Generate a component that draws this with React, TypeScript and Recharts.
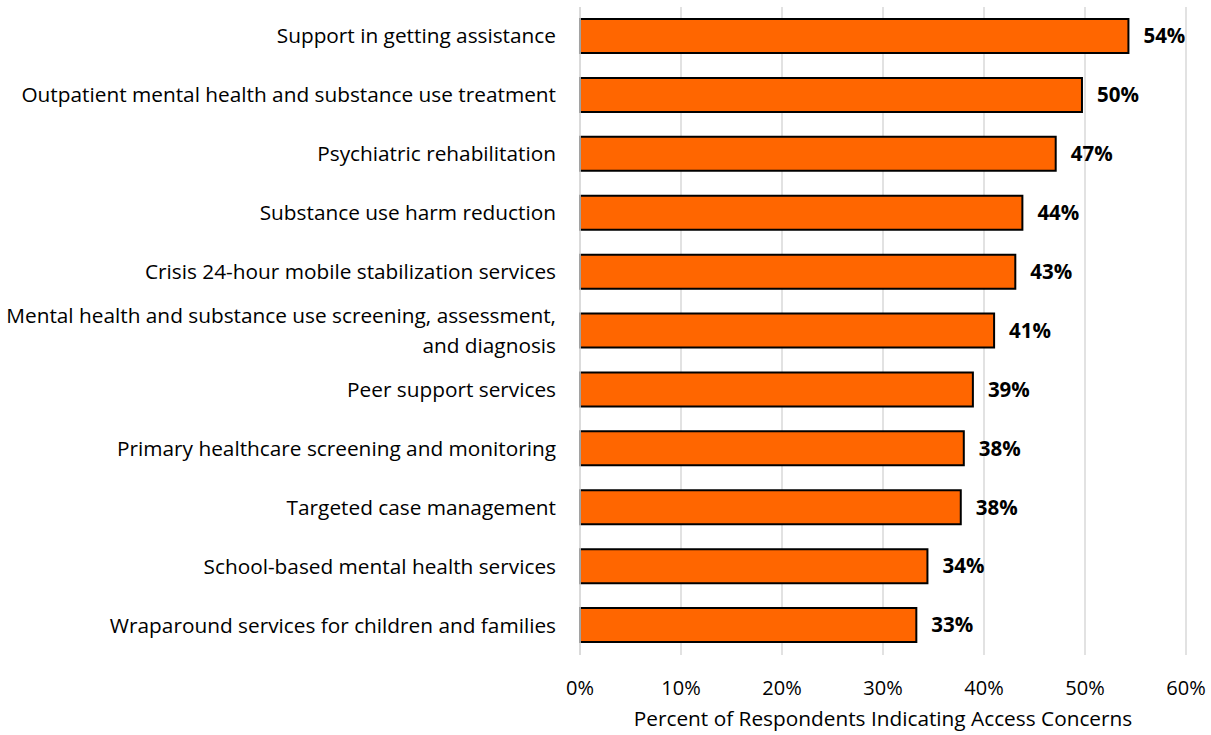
import React from "react";
import { BarChart, Bar, XAxis, YAxis, CartesianGrid, LabelList } from "recharts";

const categories = [
  "Support in getting assistance",
  "Outpatient mental health and substance use treatment",
  "Psychiatric rehabilitation",
  "Substance use harm reduction",
  "Crisis 24-hour mobile stabilization services",
  "Mental health and substance use screening, assessment,\nand diagnosis",
  "Peer support services",
  "Primary healthcare screening and monitoring",
  "Targeted case management",
  "School-based mental health services",
  "Wraparound services for children and families",
];
const values = [0.543, 0.497, 0.471, 0.438, 0.431, 0.41, 0.389, 0.38, 0.377, 0.344, 0.333];
const xTicks = [0, 0.1, 0.2, 0.3, 0.4, 0.5, 0.6];
const axisTitle = "Percent of Respondents Indicating Access Concerns";

const data = categories.map((c, i) => ({ name: c, value: values[i] }));

const FONT = "'Open Sans', Lato, sans-serif";

const YTick = (props: any) => {
  const { x, y, payload } = props;
  const lines = String(payload.value).split("\n");
  const lh = 30;
  const start = -((lines.length - 1) * lh) / 2;
  return (
    <text x={x} y={y} textAnchor="end" fontSize={20.8} fill="#000" fontFamily={FONT}>
      {lines.map((l: string, i: number) => (
        <tspan key={i} x={x} dy={i === 0 ? start + 7 : lh}>
          {l}
        </tspan>
      ))}
    </text>
  );
};

export default function App() {
  return (
    <div style={{ width: 1211, height: 735 }}>
      <style>{"body{margin:0}"}</style>
      <BarChart
        width={1211}
        height={735}
        data={data}
        layout="vertical"
        margin={{ top: 7, right: 25, bottom: 0, left: 0 }}
        barCategoryGap={12}
      >
        <CartesianGrid horizontal={false} vertical={true} stroke="#d9d9d9" strokeWidth={1.5} />
        <XAxis
          type="number"
          domain={[0, 0.6]}
          ticks={xTicks}
          tickFormatter={(v: number) => `${Math.round(v * 100)}%`}
          axisLine={false}
          tickLine={false}
          height={80}
          tick={{ fontSize: 20, fill: "#000", fontFamily: FONT }}
          tickMargin={20}
          label={{ value: axisTitle, position: "insideBottom", offset: 9, fontSize: 20.8, fill: "#000", fontFamily: FONT }}
        />
        <YAxis
          type="category"
          dataKey="name"
          width={580}
          axisLine={{ stroke: "#d9d9d9", strokeWidth: 1.5 }}
          tickLine={false}
          tickMargin={18}
          tick={<YTick />}
          interval={0}
        />
        <Bar dataKey="value" fill="#FF6600" stroke="#000" strokeWidth={2} barSize={34} isAnimationActive={false}>
          <LabelList
            dataKey="value"
            position="right"
            offset={15}
            formatter={(v: any) => `${Math.round(Number(v) * 100)}%`}
            style={{ fontSize: 20.5, fontWeight: "bold", fill: "#000", fontFamily: FONT }}
          />
        </Bar>
      </BarChart>
    </div>
  );
}
